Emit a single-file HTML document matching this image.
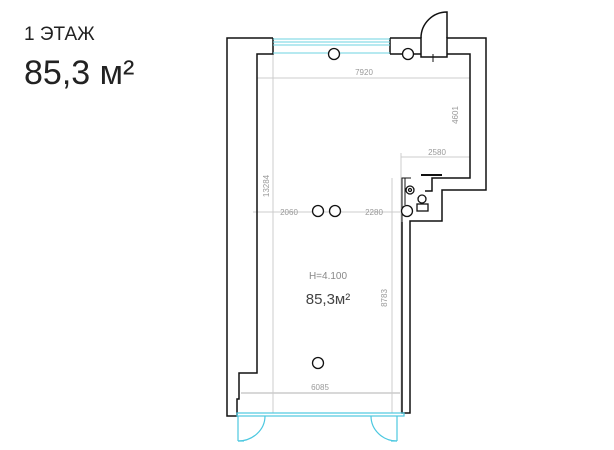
<!DOCTYPE html>
<html><head><meta charset="utf-8"><style>
html,body{margin:0;padding:0;background:#fff;width:614px;height:450px;overflow:hidden}
svg{display:block}
</style></head><body>
<svg width="614" height="450" viewBox="0 0 614 450" xmlns="http://www.w3.org/2000/svg" font-family="Liberation Sans, DejaVu Sans, sans-serif">
<text x="24" y="40" font-size="19" fill="#222">1 ЭТАЖ</text>
<text x="24" y="84" font-size="34" fill="#222">85,3 м²</text>

<!-- dimension lines -->
<g stroke="#ccc" stroke-width="1" fill="none">
<line x1="273" y1="54" x2="273" y2="413"/>
<line x1="257" y1="78" x2="470" y2="78"/>
<line x1="470" y1="54" x2="470" y2="178"/>
<line x1="401" y1="153" x2="401" y2="413"/>
<line x1="401" y1="157" x2="470" y2="157"/>
<line x1="253" y1="212" x2="400" y2="212"/>
<line x1="392" y1="178" x2="392" y2="413"/>
<line x1="241" y1="393" x2="400" y2="393" stroke-width="1.5"/>
</g>
<g fill="#999" font-size="8" text-anchor="middle">
<text x="364" y="75">7920</text>
<text x="437" y="155">2580</text>
<text x="289" y="215">2060</text>
<text x="374" y="215">2280</text>
<text x="320" y="390">6085</text>
<text transform="translate(458,115) rotate(-90)">4601</text>
<text transform="translate(269,186) rotate(-90)">13284</text>
<text transform="translate(387,298) rotate(-90)">8783</text>
</g>
<text x="328" y="279" font-size="10" fill="#888" text-anchor="middle">H=4.100</text>
<text x="328" y="304" font-size="15" fill="#444" text-anchor="middle">85,3м²</text>

<!-- walls -->
<g stroke="#111" stroke-width="1.5" fill="none">
<polyline points="273,38 227,38 227,416 237,416 237,399 239,399 239,373 257,373 257,54 273,54 273,38"/>
<polyline points="390,38 421,38 421,57 447,57 447,38 486,38 486,190 442,190 442,221 410,221 410,413 402,413 402,222"/>
<polyline points="390,54 421,54"/>
<polyline points="447,54 470,54 470,178 432,178 432,191 425,191"/>
<line x1="390" y1="38" x2="390" y2="54"/>
<path d="M447,38 L447,12 A26,26 0 0 0 421,38"/>
<line x1="433" y1="54" x2="433" y2="62" stroke-width="1"/>
<polyline points="402,222 402,178 411,178" stroke-width="1"/>
<line x1="421" y1="175" x2="442" y2="175" stroke-width="2"/>
<line x1="405" y1="178" x2="405" y2="205" stroke-width="1"/>
</g>
<!-- window top -->
<g stroke="#6cd3e0" stroke-width="1">
<line x1="273" y1="39" x2="390" y2="39"/>
<line x1="273" y1="42" x2="390" y2="42"/>
<line x1="273" y1="45" x2="390" y2="45"/>
<line x1="273" y1="53" x2="390" y2="53"/>
</g>
<!-- bottom doors -->
<g stroke="#4cc8e0" stroke-width="1.2" fill="none">
<rect x="237" y="413" width="167" height="3"/>
<line x1="238" y1="416" x2="238" y2="441"/>
<line x1="238" y1="441" x2="244" y2="441"/>
<path d="M265,416 A27,25 0 0 1 238,441"/>
<line x1="397" y1="416" x2="397" y2="441"/>
<line x1="391" y1="441" x2="397" y2="441"/>
<path d="M371,416 A26,25 0 0 0 397,441"/>
</g>
<!-- columns -->
<g stroke="#111" stroke-width="1.3" fill="#fff">
<circle cx="334" cy="54" r="5.5"/>
<circle cx="408" cy="54" r="5.5"/>
<circle cx="318" cy="211" r="5.5"/>
<circle cx="335" cy="211" r="5.5"/>
<circle cx="407" cy="211" r="5.5"/>
<circle cx="318" cy="363" r="5.5"/>
<!-- sink -->
<circle cx="410" cy="190" r="4"/>
<circle cx="410" cy="190" r="1.5"/>
<!-- toilet -->
<circle cx="422" cy="199" r="4"/>
<rect x="417" y="204" width="11" height="7"/>
</g>
</svg>
</body></html>
